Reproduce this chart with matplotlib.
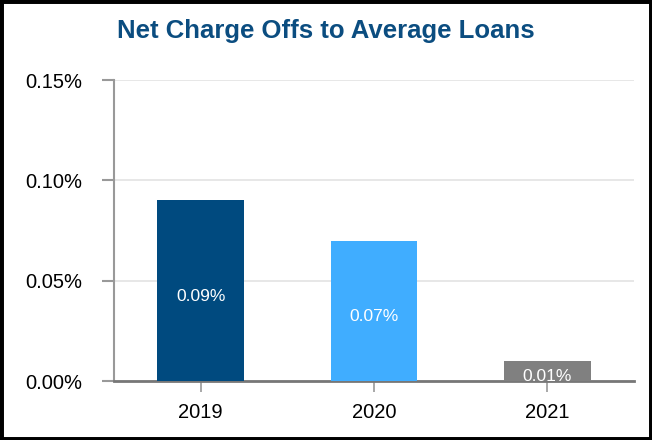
import matplotlib
matplotlib.use("Agg")
import matplotlib.pyplot as plt
from matplotlib.patches import Rectangle
from matplotlib.ticker import FuncFormatter

categories = ["2019", "2020", "2021"]
values = [0.09, 0.07, 0.01]
labels = ["0.09%", "0.07%", "0.01%"]
colors = ["#004A7F", "#40ADFF", "#808080"]
yticks = [0.0, 0.05, 0.10, 0.15]

plt.rcParams['font.family'] = ['Liberation Sans', 'DejaVu Sans']

fig = plt.figure(figsize=(6.52, 4.4), dpi=100)
ax = fig.add_axes([114/652, 59/440, 520/652, 301/440])

x = list(range(len(categories)))
bars = ax.bar(x, values, width=0.5, color=colors, zorder=3)
for b, lab in zip(bars, labels):
    ax.text(b.get_x() + b.get_width()/2, b.get_height()/2 - 0.0028, lab,
            ha='center', va='center', color='white', fontsize=12.5, zorder=4)

ax.set_xlim(-0.5, 2.5)
ax.set_ylim(0, 0.15)
ax.set_yticks(yticks)
ax.yaxis.set_major_formatter(FuncFormatter(lambda v, p: f"{v:.2f}%"))
ax.set_xticks(x)
ax.set_xticklabels(categories)

ax.grid(axis='y', color='#e3e3e3', linewidth=1.2, zorder=0)
for s in ['top', 'right']:
    ax.spines[s].set_visible(False)
ax.spines['left'].set_color('#999999')
ax.spines['left'].set_linewidth(1.5)
ax.spines['bottom'].set_color('#777777')
ax.spines['bottom'].set_linewidth(2)
ax.tick_params(axis='y', length=9, width=1.5, color='#999999', labelsize=14.5, pad=13.5)
ax.tick_params(axis='x', length=8, width=1.2, color='#999999', labelsize=14.5, pad=8)

fig.text(0.5, 1 - 31/440, "Net Charge Offs to Average Loans", ha='center', va='center',
         fontsize=18.5, fontweight='bold', color='#0B4D80')

fig.patches.append(Rectangle((0, 0), 1, 1, transform=fig.transFigure, fill=False,
                             edgecolor='black', linewidth=5, zorder=10))

fig.savefig("out.png", dpi=100)
